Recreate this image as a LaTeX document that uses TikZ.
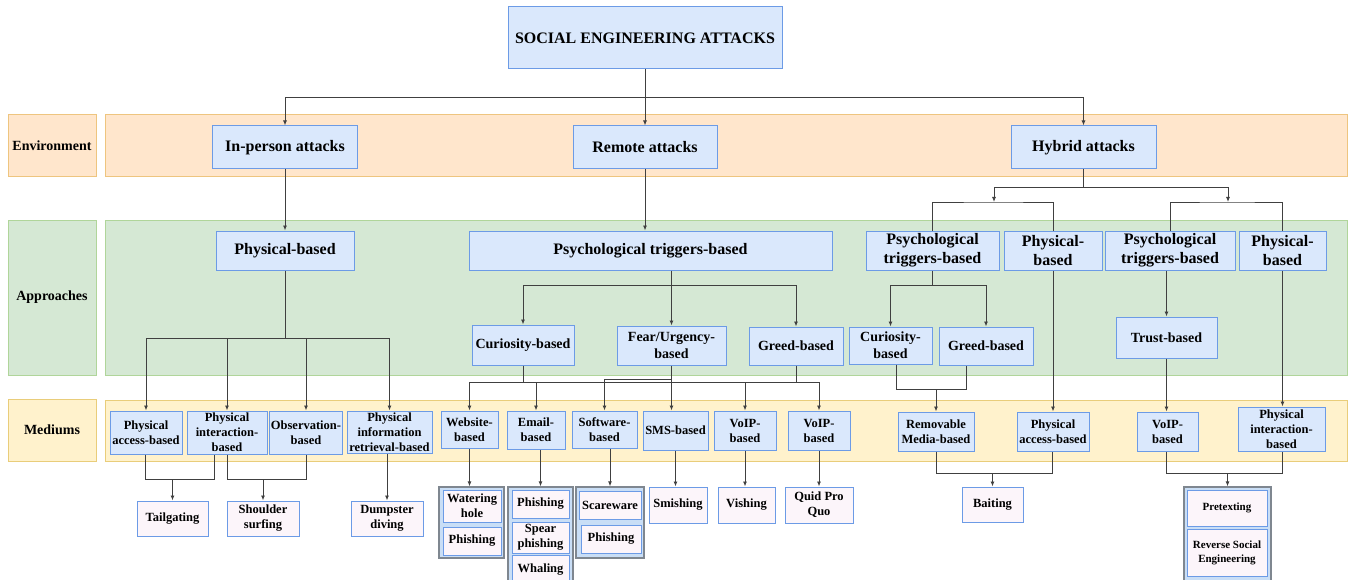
\documentclass[tikz,border=0pt]{standalone}
\usepackage{fontspec}
\setmainfont{Liberation Serif}
\usetikzlibrary{arrows.meta}
\definecolor{boxfill}{HTML}{DAE8FC}
\definecolor{boxline}{HTML}{6C9BE6}
\definecolor{leaffill}{HTML}{FCF5FA}
\definecolor{grpfill}{HTML}{C9DEF6}
\definecolor{grpline}{HTML}{7F8790}
\definecolor{envfill}{HTML}{FFE6CC}
\definecolor{envline}{HTML}{EEC57F}
\definecolor{appfill}{HTML}{D5E8D4}
\definecolor{appline}{HTML}{B0D59A}
\definecolor{medfill}{HTML}{FFF2CC}
\definecolor{medline}{HTML}{E9CD7A}
\definecolor{wireclr}{HTML}{404040}
\tikzset{
  box/.style={draw=boxline, fill=boxfill, line width=1pt, align=center, inner sep=1pt},
  big/.style={box, font=\bfseries\fontsize{16}{19}\selectfont},
  mid/.style={box, font=\bfseries\fontsize{14}{17}\selectfont},
  med/.style={box, font=\bfseries\fontsize{12.5}{15}\selectfont},
  leaf/.style={med, fill=leaffill},
  grpleaf/.style={leaf, font=\bfseries\fontsize{11}{14}\selectfont},
  grp/.style={draw=grpline, fill=grpfill, line width=1.3pt},
  band/.style={line width=1pt, align=center, font=\bfseries\fontsize{14}{17}\selectfont},
  env/.style={band, draw=envline, fill=envfill},
  app/.style={band, draw=appline, fill=appfill},
  mdm/.style={band, draw=medline, fill=medfill},
  sz/.style 2 args={minimum width=#1pt, minimum height=#2pt},
  wire/.style={draw=wireclr, line width=0.9pt},
  arr/.style={wire, -{Latex[length=5pt,width=4pt]}}
}

\begin{document}
\begin{tikzpicture}[x=1pt, y=-1pt]
  \useasboundingbox (0,0) rectangle (1351,580);

  % layers
  \node[env, sz={88}{62}] (envlab) at (52,146) {Environment};
  \node[env, sz={1242}{62}] (envband) at (726,146) {};
  \node[app, sz={88}{155}] (applab) at (52,297.5) {Approaches};
  \node[app, sz={1242}{155}] (appband) at (726,297.5) {};
  \node[mdm, sz={88}{62}] (medlab) at (52,430) {Mediums};
  \node[mdm, sz={1242}{61}] (medband) at (726,430.5) {};

  % top levels
  \node[big, sz={274}{62}] (root) at (645,38) {SOCIAL ENGINEERING ATTACKS};
  \node[big, sz={145}{43}] (inperson) at (285,147.5) {In-person attacks};
  \node[big, sz={144}{43}] (remote) at (645,147.5) {Remote attacks};
  \node[big, sz={145}{43}] (hybrid) at (1083.5,147.5) {Hybrid attacks};

  \node[big, sz={138}{39}] (physA) at (285,250.5) {Physical-based};
  \node[big, sz={363}{39}] (psychA) at (650.5,250.5) {Psychological triggers-based};
  \node[big, sz={133}{39}] (psychB) at (932.5,250.5) {Psychological\\triggers-based};
  \node[big, sz={98}{39}] (physB) at (1053,250.5) {Physical-\\based};
  \node[big, sz={130}{39}] (psychC) at (1170,250.5) {Psychological\\triggers-based};
  \node[big, sz={87}{39}] (physC) at (1282.5,250.5) {Physical-\\based};

  \node[mid, sz={102}{40}] (curA) at (523,345) {Curiosity-based};
  \node[mid, sz={109}{39}] (fear) at (671.5,345.5) {Fear/Urgency-\\based};
  \node[mid, sz={94}{38}] (greedA) at (796,346) {Greed-based};
  \node[mid, sz={83}{37}] (curB) at (890.5,345.5) {Curiosity-\\based};
  \node[mid, sz={94}{38}] (greedB) at (986,346) {Greed-based};
  \node[mid, sz={101}{41}] (trust) at (1166.5,337.5) {Trust-based};

  % mediums
  \node[med, sz={72}{43}] (pacc) at (146,432.5) {Physical\\access-based};
  \node[med, sz={80}{43}] (pint) at (227,432.5) {Physical\\interaction-\\based};
  \node[med, sz={72}{43}] (obs) at (306,432.5) {Observation-\\based};
  \node[med, sz={85}{42}] (pinfo) at (389.5,432) {Physical\\information\\retrieval-based};
  \node[med, sz={57}{37}] (web) at (469.5,429.5) {Website-\\based};
  \node[med, sz={58}{38}] (email) at (536,430) {Email-\\based};
  \node[med, sz={65}{37}] (soft) at (604.5,429.5) {Software-\\based};
  \node[med, sz={65}{39}] (sms) at (675.5,430.5) {SMS-based};
  \node[med, sz={62}{39}] (voipA) at (745,430.5) {VoIP-\\based};
  \node[med, sz={62}{39}] (voipB) at (819,430.5) {VoIP-\\based};
  \node[med, sz={76}{39}] (remov) at (936,431.5) {Removable\\Media-based};
  \node[med, sz={72}{39}] (paccB) at (1053,431.5) {Physical\\access-based};
  \node[med, sz={61}{39}] (voipC) at (1167.5,431.5) {VoIP-\\based};
  \node[med, sz={87}{44}] (pintB) at (1281.5,429) {Physical\\interaction-\\based};

  % attacks
  \node[leaf, sz={71}{35}] (tail) at (172.5,518.5) {Tailgating};
  \node[leaf, sz={72}{35}] (shoul) at (263,518.5) {Shoulder\\surfing};
  \node[leaf, sz={72}{35}] (dump) at (387,518.5) {Dumpster\\diving};
  \node[grp, sz={65}{71}] (webgrp) at (471.5,522.5) {};
  \node[leaf, sz={58}{32}] (water) at (472,506) {Watering\\hole};
  \node[leaf, sz={58}{28}] (phishA) at (472,541) {Phishing};
  \node[grp, sz={65}{103}] (emailgrp) at (540.5,538.5) {};
  \node[leaf, sz={57}{28}] (phishB) at (540.5,504) {Phishing};
  \node[leaf, sz={57}{31}] (spear) at (540.5,537.5) {Spear\\phishing};
  \node[leaf, sz={57}{29}] (whal) at (540.5,569.5) {Whaling};
  \node[grp, sz={68}{71}] (softgrp) at (610,522.5) {};
  \node[leaf, sz={62}{28}] (scare) at (610,505) {Scareware};
  \node[leaf, sz={60}{28}] (phishC) at (611,539) {Phishing};
  \node[leaf, sz={58}{36}] (smish) at (678,505) {Smishing};
  \node[leaf, sz={57}{36}] (vish) at (746.5,505) {Vishing};
  \node[leaf, sz={68}{36}] (quid) at (819,505) {Quid Pro\\Quo};
  \node[leaf, sz={61}{35}] (bait) at (992.5,504.5) {Baiting};
  \node[grp, sz={87}{103}] (pretgrp) at (1227.5,538.5) {};
  \node[grpleaf, sz={80}{36}] (pret) at (1227,508) {Pretexting};
  \node[grpleaf, sz={80}{47}] (rse) at (1227,552.5) {Reverse Social\\Engineering};

  % bends
  \coordinate (topbus) at (645,97);
  \coordinate (hbus) at (1083.5,187);
  \coordinate (brkB) at (994,202);
  \coordinate (brkC) at (1228,202);
  \coordinate (pbus) at (285,338);
  \coordinate (qbus) at (671.5,285);
  \coordinate (qbusB) at (932.5,285);
  \coordinate (cbus) at (523,382);
  \coordinate (gbus) at (796,382);
  \coordinate (fbus) at (671.5,379);
  \coordinate (rl) at (896,389);
  \coordinate (rr) at (966,389);
  \coordinate (tl) at (145,479);
  \coordinate (tr) at (214,479);
  \coordinate (sl) at (227,479);
  \coordinate (sr) at (306,479);
  \coordinate (bl) at (936,473);
  \coordinate (br) at (1052,473);
  \coordinate (vl) at (1166,473);
  \coordinate (vr) at (1282,473);

  \draw[wire] (root) -- (topbus);
  \draw[arr] (topbus) -| (inperson);
  \draw[arr] (topbus) -- (remote);
  \draw[arr] (topbus) -| (hybrid);

  \draw[arr] (inperson) -- (physA);
  \draw[arr] (remote) -- (remote |- psychA.north);
  \draw[wire] (hybrid) -- (hbus);
  \draw[arr] (hbus) -| (brkB);
  \draw[arr] (hbus) -| (brkC);
  \draw[wire] (psychB.north) |- (brkB) -| (physB.north);
  \draw[wire] (psychC.north) |- (brkC) -| (physC.north);

  \draw[wire] (physA) -- (pbus);
  \draw[arr] (pbus) -| (pacc);
  \draw[arr] (pbus) -| (pint);
  \draw[arr] (pbus) -| (obs);
  \draw[arr] (pbus) -| (pinfo);

  \draw[wire] (psychA.south -| qbus) -- (qbus);
  \draw[arr] (qbus) -| (curA);
  \draw[arr] (qbus) -- (fear);
  \draw[arr] (qbus) -| (greedA);

  \draw[wire] (curA) -- (cbus);
  \draw[arr] (cbus) -| (web);
  \draw[arr] (cbus) -| (email);
  \draw[wire] (greedA) -- (gbus);
  \draw[arr] (gbus) -| (voipA);
  \draw[arr] (gbus) -| (voipB);
  \draw[wire] (cbus) -- (gbus);
  \draw[wire] (fear) -- (fbus);
  \draw[arr] (fbus) -| (soft);
  \draw[arr] (fbus) -- (fbus |- sms.north);

  \draw[wire] (psychB) -- (qbusB);
  \draw[arr] (qbusB) -| (curB);
  \draw[arr] (qbusB) -| (greedB);
  \draw[wire] (rl |- curB.south) -- (rl) -- (rr) -- (rr |- greedB.south);
  \draw[arr] (remov |- rl) -- (remov);

  \draw[arr] (physB) -- (paccB);
  \draw[arr] (trust |- psychC.south) -- (trust);
  \draw[arr] (trust) -- (trust |- voipC.north);
  \draw[arr] (physC) -- (physC |- pintB.north);

  \draw[wire] (tl |- pacc.south) -- (tl) -- (tr) -- (tr |- pint.south);
  \draw[arr] (tail |- tl) -- (tail);
  \draw[wire] (sl |- pint.south) -- (sl) -- (sr) -- (sr |- obs.south);
  \draw[arr] (shoul |- sl) -- (shoul);
  \draw[arr] (dump |- pinfo.south) -- (dump);

  \draw[arr] (web) -- (web |- webgrp.north);
  \draw[arr] (emailgrp |- email.south) -- (emailgrp);
  \draw[arr] (softgrp |- soft.south) -- (softgrp);
  \draw[arr] (sms) -- (sms |- smish.north);
  \draw[arr] (voipA) -- (voipA |- vish.north);
  \draw[arr] (voipB) -- (quid);

  \draw[wire] (bl |- remov.south) -- (bl) -- (br) -- (br |- paccB.south);
  \draw[arr] (bait |- bl) -- (bait);
  \draw[wire] (vl |- voipC.south) -- (vl) -- (vr) -- (vr |- pintB.south);
  \draw[arr] (pretgrp |- vl) -- (pretgrp);
\end{tikzpicture}
\end{document}
